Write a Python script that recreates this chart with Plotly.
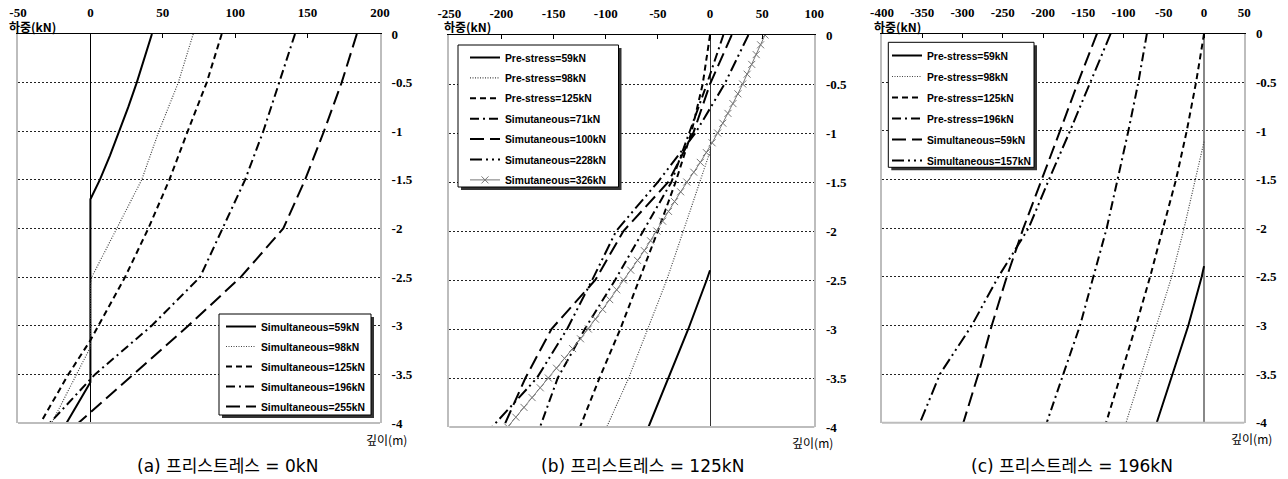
import plotly.graph_objects as go

W, H = 1288, 479

# ---------------- (a) prestress 0 kN ----------------
a_depth_s59 = [0, -0.25, -0.5, -0.75, -1.0, -1.25, -1.5, -1.7, -3.58, -4.0]
a_load_s59 = [42.5, 37.5, 32.0, 26.2, 20.0, 13.5, 6.5, 0.0, 0.0, -16.5]
a_depth_s98 = [0, -0.5, -1.0, -1.5, -2.0, -2.5, -2.58, -3.22, -4.0]
a_load_s98 = [71.0, 60.7, 47.3, 35.4, 18.2, 0.9, 0.0, 0.0, -26.7]
a_depth_s125 = [0, -0.5, -1.0, -1.5, -2.0, -2.5, -3.0, -3.15, -3.5, -4.0]
a_load_s125 = [90.7, 80.3, 67.2, 54.5, 40.0, 23.9, 5.5, 0.0, -15.2, -34.5]
a_depth_s196 = [0, -0.5, -1.0, -1.5, -2.0, -2.5, -3.0, -3.5, -4.0]
a_load_s196 = [141.3, 130.5, 119.4, 106.8, 91.0, 75.7, 42.3, 3.2, -28.0]
a_depth_s255 = [0, -0.5, -1.0, -1.5, -2.0, -2.5, -3.0, -3.5, -4.0]
a_load_s255 = [184.0, 173.5, 161.3, 148.2, 133.2, 103.8, 67.6, 29.6, -8.3]

# ---------------- (b) prestress 125 kN ----------------
b_depth_p59 = [-2.4, -2.5, -3.0, -3.5, -4.0]
b_load_p59 = [0.0, -3.2, -20.8, -40.0, -59.0]
b_depth_p98 = [-1.19, -1.5, -2.0, -2.5, -3.0, -3.5, -4.0]
b_load_p98 = [0.0, -9.6, -25.6, -41.5, -60.0, -78.0, -99.0]
b_depth_half = [0, -0.5, -1.0, -1.5, -2.0, -2.5, -3.0, -3.5, -4.0]
b_load_p125 = [0.0, -7.0, -18.0, -33.0, -50.0, -68.0, -86.0, -106.0, -124.6]
b_load_s71 = [12.8, -3.0, -20.0, -37.0, -64.0, -91.0, -120.0, -146.0, -163.0]
b_load_s100 = [20.8, 0.0, -16.0, -40.0, -83.0, -110.0, -152.0, -177.0, -198.0]
b_load_s228 = [36.8, 14.0, -14.0, -50.0, -90.0, -113.0, -137.0, -166.0, -209.0]
b_depth_s326 = [0, -0.1, -0.2, -0.3, -0.4, -0.5, -0.6, -0.7, -0.8, -0.9,
                -1.0, -1.1, -1.2, -1.3, -1.4, -1.5, -1.6, -1.7, -1.8, -1.9,
                -2.0, -2.1, -2.2, -2.3, -2.4, -2.5, -2.6, -2.7, -2.8, -2.9,
                -3.0, -3.1, -3.2, -3.3, -3.4, -3.5, -3.6, -3.7, -3.8, -3.9, -4.0]
b_load_s326 = [52.7, 48.5, 44.3, 40.0, 35.6, 31.3, 26.7, 22.0, 17.2, 12.3,
               7.3, 2.0, -3.5, -9.3, -15.6, -22.3, -28.2, -34.0, -39.8, -45.4,
               -51.0, -57.0, -63.0, -69.5, -76.0, -83.0, -89.5, -96.2, -103.0, -109.8,
               -116.7, -124.2, -131.8, -139.5, -147.2, -155.0, -162.8, -170.6, -178.4, -186.2, -194.0]

# ---------------- (c) prestress 196 kN ----------------
c_depth_p59 = [-2.39, -2.5, -3.0, -3.5, -4.0]
c_load_p59 = [0.0, -2.9, -19.5, -38.9, -58.8]
c_depth_p98 = [-1.11, -1.5, -2.0, -2.5, -3.0, -3.5, -4.0]
c_load_p98 = [0.0, -11.2, -24.8, -40.2, -58.8, -78.3, -96.9]
c_depth_half = [0, -0.5, -1.0, -1.5, -2.0, -2.5, -3.0, -3.5, -4.0]
c_load_p125 = [0.0, -9.9, -21.5, -34.8, -51.0, -67.0, -84.5, -103.5, -121.7]
c_load_p196 = [-71.0, -81.6, -94.0, -107.7, -120.9, -137.5, -154.0, -174.8, -195.4]
c_load_s59 = [-133.0, -156.5, -178.9, -201.6, -224.4, -245.0, -263.7, -280.3, -299.0]
c_load_s157 = [-116.0, -140.8, -166.5, -192.6, -218.0, -255.5, -288.5, -328.0, -352.8]

# axis ticks
a_xticks = [-50, 0, 50, 100, 150, 200]
b_xticks = [-250, -200, -150, -100, -50, 0, 50, 100]
c_xticks = [-400, -350, -300, -250, -200, -150, -100, -50, 0, 50]
depth_ticks = [0, -0.5, -1, -1.5, -2, -2.5, -3, -3.5, -4]
depth_labels = ["0", "-0.5", "-1", "-1.5", "-2", "-2.5", "-3", "-3.5", "-4"]

captions = ["(a) 프리스트레스 = 0kN", "(b) 프리스트레스 = 125kN", "(c) 프리스트레스 = 196kN"]

# ---------------- styling ----------------
STYLE = {
    "solid": dict(color="black", width=2, dash="solid"),
    "dot": dict(color="#444444", width=1.2, dash="1px,1.5px"),
    "dash": dict(color="black", width=2, dash="6px,4px"),
    "dashdot": dict(color="black", width=2, dash="9px,4px,2px,4px"),
    "longdash": dict(color="black", width=2, dash="14px,6px"),
    "ldashdotdot": dict(color="black", width=2, dash="12px,4px,2px,4px,2px,4px"),
    "xline": dict(color="#777777", width=1, dash="solid"),
}


def px_x(p):
    return p / W


def px_y(p):
    return 1 - p / H


fig = go.Figure()


def add_line(x, y, name, style, axis, legend, idx):
    if style == "xline":
        kw = dict(mode="lines+markers",
                  marker=dict(symbol="x-thin", size=7, line=dict(color="#777777", width=1)))
    else:
        kw = dict(mode="lines")
    fig.add_trace(go.Scatter(
        x=x, y=y, name=name, line=STYLE[style],
        xaxis="x" + axis, yaxis="y" + axis, legend=legend,
        legendgroup=legend + str(idx), hoverinfo="skip", **kw))


# panel (a)
add_line(a_load_s59, a_depth_s59, "Simultaneous=59kN", "solid", "", "legend", 0)
add_line(a_load_s98, a_depth_s98, "Simultaneous=98kN", "dot", "", "legend", 1)
add_line(a_load_s125, a_depth_s125, "Simultaneous=125kN", "dash", "", "legend", 2)
add_line(a_load_s196, a_depth_s196, "Simultaneous=196kN", "dashdot", "", "legend", 3)
add_line(a_load_s255, a_depth_s255, "Simultaneous=255kN", "longdash", "", "legend", 4)

# panel (b)
add_line(b_load_p59, b_depth_p59, "Pre-stress=59kN", "solid", "2", "legend2", 0)
add_line(b_load_p98, b_depth_p98, "Pre-stress=98kN", "dot", "2", "legend2", 1)
add_line(b_load_p125, b_depth_half, "Pre-stress=125kN", "dash", "2", "legend2", 2)
add_line(b_load_s71, b_depth_half, "Simutaneous=71kN", "dashdot", "2", "legend2", 3)
add_line(b_load_s100, b_depth_half, "Simutaneous=100kN", "longdash", "2", "legend2", 4)
add_line(b_load_s228, b_depth_half, "Simutaneous=228kN", "ldashdotdot", "2", "legend2", 5)
add_line(b_load_s326, b_depth_s326, "Simutaneous=326kN", "xline", "2", "legend2", 6)

# panel (c)
add_line(c_load_p59, c_depth_p59, "Pre-stress=59kN", "solid", "3", "legend3", 0)
add_line(c_load_p98, c_depth_p98, "Pre-stress=98kN", "dot", "3", "legend3", 1)
add_line(c_load_p125, c_depth_half, "Pre-stress=125kN", "dash", "3", "legend3", 2)
add_line(c_load_p196, c_depth_half, "Pre-stress=196kN", "dashdot", "3", "legend3", 3)
add_line(c_load_s59, c_depth_half, "Simultaneous=59kN", "longdash", "3", "legend3", 4)
add_line(c_load_s157, c_depth_half, "Simultaneous=157kN", "ldashdotdot", "3", "legend3", 5)

# panel geometry in pixels: left, right, top, bottom
panels = [
    dict(box=(18, 380, 34, 423), xr=(-50, 200), ticks=a_xticks, zc="black", zw=1,
         leg=(219, 371, 314, 415), legpos=(221, 312), gap=1, ylab=(386, 439), hx=7),
    dict(box=(449.3, 814.3, 35, 427), xr=(-250, 100), ticks=b_xticks, zc="#333333", zw=1,
         leg=(458, 618.5, 45, 187), legpos=(465, 43), gap=1.4, ylab=(812, 442), hx=442),
    dict(box=(882, 1244.3, 33.7, 422.7), xr=(-400, 50), ticks=c_xticks, zc="#888888", zw=2,
         leg=(888.3, 1034, 42.3, 167.3), legpos=(887, 41), gap=2, ylab=(1251, 438), hx=872),
]
cap_x = [227, 642, 1072]

tick_font = dict(family="Liberation Serif", size=13, color="black", weight="bold")
legend_font = dict(family="Liberation Sans", size=10.3, color="black", weight="bold")
kor_font = dict(family="Noto Sans CJK KR", size=12, color="black", weight="bold")

shapes = []
annotations = []
layout = dict(
    width=W, height=H, margin=dict(l=0, r=0, t=0, b=0, autoexpand=False),
    paper_bgcolor="white", plot_bgcolor="white", showlegend=True,
)

for i, p in enumerate(panels):
    sfx = "" if i == 0 else str(i + 1)
    l, r, t, b = p["box"]
    layout["xaxis" + sfx] = dict(
        domain=[px_x(l), px_x(r)], range=list(p["xr"]), side="top",
        anchor="y" + sfx, tickvals=p["ticks"], ticktext=[str(v) for v in p["ticks"]],
        ticks="inside", ticklen=4, tickcolor="black", tickwidth=1,
        showline=True, linecolor="black", linewidth=1, automargin=False,
        showgrid=False, zeroline=True, zerolinecolor=p["zc"], zerolinewidth=p["zw"],
        tickfont=tick_font, ticklabelstandoff=11, fixedrange=True,
    )
    layout["yaxis" + sfx] = dict(
        domain=[px_y(b), px_y(t)], range=[-4, 0], side="right",
        anchor="x" + sfx, tickvals=depth_ticks, ticktext=depth_labels,
        ticks="", showline=True, linecolor="#bdbdbd", linewidth=2, mirror=True,
        showgrid=True, gridcolor="#222222", gridwidth=1, griddash="2px,2px",
        zeroline=False, tickfont=tick_font, ticklabelstandoff=7, fixedrange=True,
        automargin=False,
    )
    # bottom frame edge
    shapes.append(dict(type="line", xref="paper", yref="paper", layer="above",
                       x0=px_x(l), x1=px_x(r), y0=px_y(b), y1=px_y(b),
                       line=dict(color="#bdbdbd", width=2)))
    # legend frame with drop shadow
    ll, lr, lt, lb = p["leg"]
    shapes.append(dict(type="rect", xref="paper", yref="paper", layer="above",
                       x0=px_x(ll + 3), x1=px_x(lr + 3), y0=px_y(lb + 3), y1=px_y(lt + 3),
                       fillcolor="#333333", line=dict(width=0)))
    shapes.append(dict(type="rect", xref="paper", yref="paper", layer="above",
                       x0=px_x(ll), x1=px_x(lr), y0=px_y(lb), y1=px_y(lt),
                       fillcolor="white", line=dict(color="black", width=1)))
    lx, ly = p["legpos"]
    layout["legend" + sfx] = dict(
        x=px_x(lx), y=px_y(ly), xanchor="left", yanchor="top",
        bgcolor="rgba(0,0,0,0)", borderwidth=0, font=legend_font,
        traceorder="grouped", tracegroupgap=p["gap"], itemwidth=30,
    )
    # axis titles
    annotations.append(dict(text="하중(kN)", xref="paper", yref="paper",
                            x=px_x(p["hx"]), y=px_y(27), xanchor="left", yanchor="middle",
                            showarrow=False, font=kor_font))
    yx, yy = p["ylab"]
    annotations.append(dict(text="깊이(m)", xref="paper", yref="paper",
                            x=px_x(yx), y=px_y(yy), xanchor="center", yanchor="middle",
                            showarrow=False, font=dict(family="Noto Sans CJK KR", size=12, color="black")))
    annotations.append(dict(text=captions[i], xref="paper", yref="paper",
                            x=px_x(cap_x[i]), y=px_y(466), xanchor="center", yanchor="middle",
                            showarrow=False,
                            font=dict(family="DejaVu Sans, Noto Sans CJK KR", size=17, color="black")))

layout["shapes"] = shapes
layout["annotations"] = annotations
fig.update_layout(**layout)

fig.write_html("out.html")
